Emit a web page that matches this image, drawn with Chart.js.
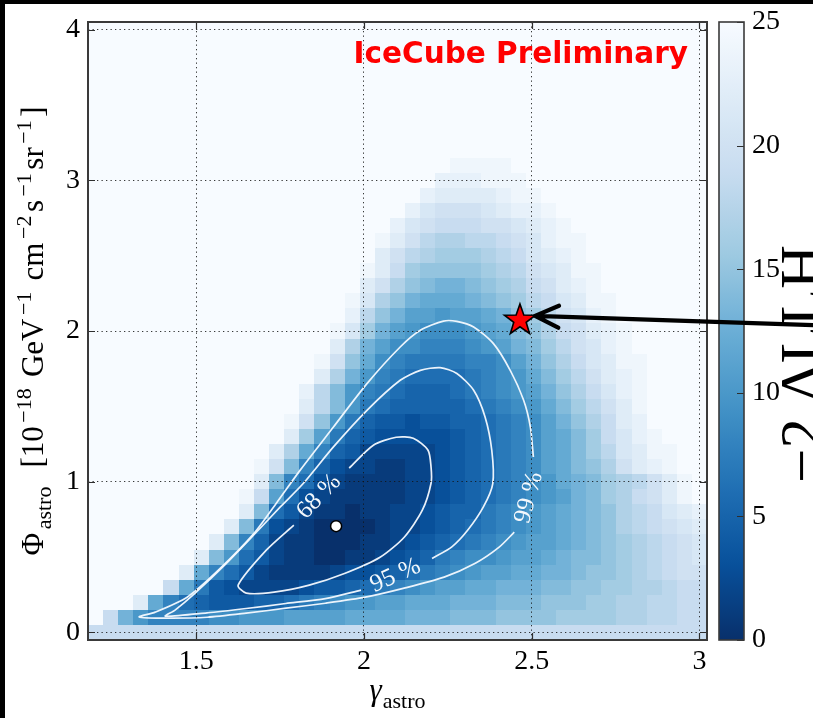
<!DOCTYPE html>
<html>
<head>
<meta charset="utf-8">
<script src="https://cdn.jsdelivr.net/npm/chart.js@4.4.1/dist/chart.umd.min.js"></script>
<style>
  html, body { margin: 0; padding: 0; background: #fff; }
  #wrap { position: relative; width: 813px; height: 718px; overflow: hidden; }
  #c { position: absolute; left: 0; top: 0; }
  .edge { position: absolute; background: #000; }
</style>
</head>
<body>
<div id="wrap">
  <canvas id="c" width="813" height="718"></canvas>
  <div class="edge" style="left:0;top:0;width:813px;height:4px"></div>
  <div class="edge" style="left:0;top:0;width:5px;height:718px"></div>
</div>
<script>
(function () {
    'use strict';

    // scan grid: gamma bins (x) and phi bins (y)
    const gammaStart = 1.2, gammaStep = 0.045;
    const phiStart = 0, phiStep = 0.1;
    const llhCap = 25;

    // -2 dLLH per phi row, starting at column rowFirstCol[r]; cells outside are >= 25
    const rowFirstCol = [0, 1, 3, 5, 6, 7, 8, 9, 10, 10, 11, 11, 12, 13, 13, 14, 14, 15, 15, 16, 16, 17, 17, 18, 18, 19, 19, 20, 21, 22, 23, 24];
    const llhRows = [
        [19,19,19,19,19,19,19,19,19,19,19,19,19,19,19,19,19,19,19,19,19,19,19,19,19,19,19,19,19,19,19,19,19,19,19,19,19,19,19,19,19],
        [19,13,10,8,8,8,8,9,9,10,10,10,11,11,11,11,12,12,12,12,13,13,13,14,14,14,15,15,15,15,16,16,16,16,17,17,18,18,19,19],
        [22,12,8,6,5,4,4,4,5,5,6,7,8,9,10,10,11,11,12,12,12,13,13,13,14,14,14,15,15,15,16,16,17,17,18,18,19,19],
        [19,12,7,4,3,2,2,2,2,3,4,4,5,6,7,8,9,10,11,11,12,12,13,13,13,14,14,15,15,16,16,17,17,18,19,19],
        [22,12,8,6,4,2,1,1,1,1,2,3,3,4,5,6,7,8,9,10,11,11,12,12,13,13,14,15,15,16,17,18,19,20,20],
        [22,14,10,6,4,2,1,1,0,0,1,1,2,3,4,5,7,8,9,9,10,11,11,12,13,14,14,15,16,17,18,19,20,21],
        [22,14,8,5,2,1,1,0,0,0,1,1,2,3,4,5,6,7,8,9,10,11,11,12,13,14,15,16,17,18,19,20,21],
        [22,14,7,3,2,1,0,0,0,0,1,2,2,3,4,5,6,7,8,9,10,11,12,13,14,15,17,18,19,20,21,22],
        [22,14,6,4,2,1,1,0,1,1,2,2,3,4,5,5,7,8,9,10,11,12,13,14,15,17,18,19,21,22,23],
        [24,19,11,6,3,2,1,1,1,1,1,2,2,3,4,5,6,7,8,9,10,11,13,14,16,17,19,20,22,24],
        [22,14,8,6,3,2,1,1,1,1,2,2,3,4,5,6,7,8,9,10,12,13,14,16,17,18,20,22,24],
        [24,20,14,8,5,3,2,2,1,1,2,2,3,4,5,6,7,8,9,11,12,14,15,17,20,22,23,24],
        [22,17,12,8,5,4,2,2,2,2,2,3,4,5,6,7,8,9,11,12,14,16,18,21,22,24,24],
        [22,16,11,7,5,4,3,3,3,3,3,4,5,6,7,8,9,11,12,14,16,19,21,23,24],
        [24,20,15,10,7,5,4,4,3,4,4,5,5,6,7,8,9,11,13,15,17,19,22,23],
        [22,18,14,10,7,6,5,5,5,5,5,6,7,8,9,10,12,14,16,18,20,22,24],
        [23,18,14,10,8,7,6,5,5,5,6,7,8,9,10,11,13,15,17,19,21,23,24],
        [22,17,13,10,8,7,6,6,6,6,7,8,9,10,12,14,16,18,20,22,23,24],
        [24,20,15,12,9,8,7,7,7,7,8,8,9,11,13,15,17,19,21,22,24,24],
        [22,17,13,11,9,9,8,8,8,9,10,11,13,14,16,18,20,21,23,24],
        [24,21,16,13,11,10,9,9,9,10,11,12,14,15,17,19,20,22,23,24],
        [23,18,15,13,11,11,10,11,11,12,13,15,16,18,20,21,23,24],
        [24,21,17,15,13,12,12,12,13,14,15,16,18,19,21,22,24,24],
        [22,20,17,15,14,13,13,14,15,16,17,19,20,22,23,24],
        [24,22,19,16,15,15,15,15,16,17,18,20,21,22,24,24],
        [22,20,18,17,16,16,16,17,18,19,21,22,23,24],
        [24,22,20,18,17,17,18,18,19,20,21,23,24,24],
        [23,21,20,19,19,19,20,20,21,22,23,24],
        [23,21,20,20,20,21,22,23,23,24],
        [23,22,22,22,22,23,24,24],
        [23,23,23,24,24,24],
        [24,24,24,24]
    ];

    // confidence contours (gamma, phi), open where the label sits
    const contour68 = [[1.791,0.712],[1.709,0.546],[1.625,0.314],[1.649,0.261],[1.732,0.267],[1.837,0.314],[1.944,0.393],[2.048,0.499],[2.120,0.632],[2.174,0.811],[2.200,0.990],[2.200,1.097],[2.191,1.209],[2.147,1.289],[2.096,1.295],[2.028,1.242],[1.956,1.090]];
    const contour95 = [[2.203,0.491],[2.262,0.568],[2.309,0.678],[2.356,0.833],[2.384,0.988],[2.381,1.209],[2.361,1.430],[2.327,1.607],[2.277,1.718],[2.227,1.757],[2.168,1.739],[2.108,1.673],[2.009,1.474],[1.909,1.231],[1.819,0.988],[1.750,0.831],[1.685,0.678],[1.590,0.458],[1.496,0.259],[1.437,0.148],[1.408,0.108],[1.532,0.130],[1.649,0.159],[1.767,0.192],[1.885,0.225],[1.991,0.281]];
    const contour99 = [[2.505,1.164],[2.496,1.363],[2.476,1.540],[2.436,1.739],[2.386,1.916],[2.327,2.027],[2.277,2.064],[2.237,2.066],[2.168,2.005],[2.108,1.894],[2.009,1.651],[1.909,1.363],[1.810,1.077],[1.741,0.864],[1.673,0.659],[1.566,0.413],[1.473,0.234],[1.378,0.135],[1.330,0.103],[1.414,0.095],[1.533,0.101],[1.649,0.128],[1.768,0.161],[1.885,0.194],[2.004,0.234],[2.120,0.294],[2.239,0.367],[2.332,0.459],[2.403,0.566],[2.448,0.665]];
    const contourLabels = ['68 %', '95 %', '99 %'];
    const contourLabelAt = [[1.866, 0.900, -46], [2.094, 0.377, -24], [2.492, 0.894, -75]];

    const bestFit = [1.917, 0.705];
    const starAt = [2.465, 2.071];
    const arrowTip = [2.51, 2.10];
    const arrowTailFrac = [1.0, 0.453];

    const xTicks = [1.5, 2, 2.5, 3];
    const xTickText = ['1.5', '2', '2.5', '3'];
    const yTicks = [0, 1, 2, 3, 4];
    const yTickText = ['0', '1', '2', '3', '4'];
    const cbTicks = [0, 5, 10, 15, 20, 25];
    const cbTickText = ['0', '5', '10', '15', '20', '25'];

    const xTitle = [['γ', 'it'], ['astro', 'sub']];
    const yTitle = [['Φ', 'n'], ['astro', 'sub'], ['  [10', 'n'], ['−18', 'sup'], [' GeV', 'n'], ['−1', 'sup'], [' cm', 'n'], ['−2', 'sup'], ['s', 'n'], ['−1', 'sup'], ['sr', 'n'], ['−1', 'sup'], [']', 'n']];
    const cbTitle = '−2 ΔLLH';
    const watermark = 'IceCube Preliminary';

    const SERIF = '"Liberation Serif", "Times New Roman", serif';
    const bluesStops = ['#f7fbff', '#deebf7', '#c6dbef', '#9ecae1', '#6baed6', '#4292c6', '#2171b5', '#08519c', '#08306b'];

    function hexRgb(h) {
        return [parseInt(h.slice(1, 3), 16), parseInt(h.slice(3, 5), 16), parseInt(h.slice(5, 7), 16)];
    }
    const bluesRgb = bluesStops.map(hexRgb);

    function blues(v) {
        const t = 1 - Math.min(Math.max(v, 0), llhCap) / llhCap;
        const p = t * (bluesRgb.length - 1);
        const i = Math.min(bluesRgb.length - 2, Math.floor(p));
        const f = p - i;
        const a = bluesRgb[i], b = bluesRgb[i + 1];
        return 'rgb(' + a.map((c, k) => Math.round(c + (b[k] - c) * f)).join(',') + ')';
    }

    function toPoints(arr) {
        return arr.map(p => ({ x: p[0], y: p[1] }));
    }

    function drawRich(ctx, parts, x, y, rot, gap) {
        const size = { n: 31, it: 31, sub: 22, sup: 22 };
        const shift = { n: 0, it: 0, sub: 8, sup: -12 };
        const fontOf = k => (k === 'it' ? 'italic ' : '') + size[k] + 'px ' + SERIF;
        let total = 0;
        parts.forEach(p => { ctx.font = fontOf(p[1]); total += ctx.measureText(p[0]).width + gap; });
        total -= gap;
        ctx.save();
        ctx.translate(x, y);
        ctx.rotate(rot);
        ctx.fillStyle = '#000';
        ctx.textBaseline = 'alphabetic';
        ctx.textAlign = 'left';
        let cx = -total / 2;
        parts.forEach(p => {
            ctx.font = fontOf(p[1]);
            ctx.fillText(p[0], cx, shift[p[1]]);
            cx += ctx.measureText(p[0]).width + gap;
        });
        ctx.restore();
    }

    function drawCells(chart) {
        const { ctx, chartArea: a, scales: { x, y } } = chart;
        ctx.save();
        ctx.beginPath();
        ctx.rect(a.left, a.top, a.right - a.left, a.bottom - a.top);
        ctx.clip();
        ctx.fillStyle = blues(llhCap);
        ctx.fillRect(a.left, a.top, a.right - a.left, a.bottom - a.top);
        llhRows.forEach((vals, r) => {
            const phi = phiStart + r * phiStep;
            const y0 = Math.round(y.getPixelForValue(phi + phiStep / 2));
            const y1 = Math.round(y.getPixelForValue(phi - phiStep / 2));
            vals.forEach((v, k) => {
                const g = gammaStart + (rowFirstCol[r] + k) * gammaStep;
                const x0 = Math.round(x.getPixelForValue(g - gammaStep / 2));
                const x1 = Math.round(x.getPixelForValue(g + gammaStep / 2));
                ctx.fillStyle = blues(v);
                ctx.fillRect(x0, y0, x1 - x0, y1 - y0);
            });
        });
        ctx.restore();
    }

    function drawContourLabels(chart) {
        const { ctx, scales: { x, y } } = chart;
        ctx.save();
        ctx.fillStyle = '#f4f8fc';
        ctx.font = '25px ' + SERIF;
        ctx.textAlign = 'center';
        ctx.textBaseline = 'middle';
        contourLabels.forEach((txt, i) => {
            const p = contourLabelAt[i];
            ctx.save();
            ctx.translate(x.getPixelForValue(p[0]), y.getPixelForValue(p[1]));
            ctx.rotate(p[2] * Math.PI / 180);
            ctx.fillText(txt, 0, 0);
            ctx.restore();
        });
        ctx.restore();
    }

    function drawFrame(chart) {
        const { ctx, chartArea: a, scales: { x, y } } = chart;
        ctx.save();
        ctx.strokeStyle = '#2e2e2e';
        ctx.lineWidth = 1.2;
        ctx.beginPath();
        x.ticks.forEach(t => {
            const px = Math.round(x.getPixelForValue(t.value)) + 0.5;
            ctx.moveTo(px, a.bottom); ctx.lineTo(px, a.bottom - 7);
            ctx.moveTo(px, a.top); ctx.lineTo(px, a.top + 7);
        });
        y.ticks.forEach(t => {
            const py = Math.round(y.getPixelForValue(t.value)) + 0.5;
            ctx.moveTo(a.left, py); ctx.lineTo(a.left + 7, py);
            ctx.moveTo(a.right, py); ctx.lineTo(a.right - 7, py);
        });
        ctx.stroke();
        ctx.strokeStyle = '#3a3a3a';
        ctx.lineWidth = 2;
        ctx.strokeRect(a.left, a.top, a.right - a.left, a.bottom - a.top);
        ctx.restore();
    }

    function drawColorbar(chart) {
        const { ctx } = chart;
        const cb = chart.scales.cb;
        const left = cb.left + 12, width = 25;
        const top = cb.getPixelForValue(llhCap), bottom = cb.getPixelForValue(0);
        const grad = ctx.createLinearGradient(0, bottom, 0, top);
        for (let v = 0; v <= llhCap; v += 0.5) {
            grad.addColorStop(v / llhCap, blues(v));
        }
        ctx.save();
        ctx.fillStyle = grad;
        ctx.fillRect(left, top, width, bottom - top);
        ctx.strokeStyle = '#2e2e2e';
        ctx.lineWidth = 1.2;
        ctx.beginPath();
        cb.ticks.forEach(t => {
            const py = Math.round(cb.getPixelForValue(t.value)) + 0.5;
            ctx.moveTo(left + width, py); ctx.lineTo(left + width - 7, py);
        });
        ctx.stroke();
        ctx.strokeStyle = '#3a3a3a';
        ctx.lineWidth = 1.6;
        ctx.strokeRect(left, top, width, bottom - top);
        ctx.restore();
    }

    function drawTitles(chart) {
        const { ctx, chartArea: a } = chart;
        drawRich(ctx, xTitle, (a.left + a.right) / 2, 700, 0, 1);
        drawRich(ctx, yTitle, 43, (a.top + a.bottom) / 2, -Math.PI / 2, 3.5);
        ctx.save();
        ctx.translate(822, 364);
        ctx.rotate(-Math.PI / 2);
        ctx.font = '61px ' + SERIF;
        ctx.fillStyle = '#000';
        ctx.textAlign = 'center';
        ctx.textBaseline = 'alphabetic';
        ctx.fillText(cbTitle, 0, 0);
        ctx.restore();
        ctx.save();
        ctx.font = 'bold 29.5px "DejaVu Sans", sans-serif';
        ctx.fillStyle = '#ff0000';
        ctx.textAlign = 'right';
        ctx.textBaseline = 'alphabetic';
        ctx.fillText(watermark, a.right - 19, a.top + 41);
        ctx.restore();
    }

    function drawStar(chart) {
        const { ctx, scales: { x, y } } = chart;
        const cx = x.getPixelForValue(starAt[0]), cy = y.getPixelForValue(starAt[1]);
        const R = 16.3, r = R * 0.4;
        ctx.save();
        ctx.beginPath();
        for (let i = 0; i < 10; i++) {
            const ang = -Math.PI / 2 + i * Math.PI / 5;
            const rad = i % 2 === 0 ? R : r;
            const px = cx + rad * Math.cos(ang), py = cy + rad * Math.sin(ang);
            if (i === 0) ctx.moveTo(px, py); else ctx.lineTo(px, py);
        }
        ctx.closePath();
        ctx.fillStyle = '#ff0000';
        ctx.fill();
        ctx.lineWidth = 1.6;
        ctx.strokeStyle = '#000';
        ctx.lineJoin = 'miter';
        ctx.stroke();
        ctx.restore();
    }

    function drawArrow(chart) {
        const { ctx, scales: { x, y } } = chart;
        const tx = x.getPixelForValue(arrowTip[0]), ty = y.getPixelForValue(arrowTip[1]);
        const ex = chart.width * arrowTailFrac[0] + 2, ey = chart.height * arrowTailFrac[1];
        const ang = Math.atan2(ey - ty, ex - tx);
        const head = 26, spread = 25 * Math.PI / 180;
        ctx.save();
        ctx.strokeStyle = '#000';
        ctx.lineWidth = 4.2;
        ctx.lineCap = 'round';
        ctx.lineJoin = 'round';
        ctx.beginPath();
        ctx.moveTo(ex, ey);
        ctx.lineTo(tx, ty);
        ctx.moveTo(tx + head * Math.cos(ang - spread), ty + head * Math.sin(ang - spread));
        ctx.lineTo(tx, ty);
        ctx.lineTo(tx + head * Math.cos(ang + spread), ty + head * Math.sin(ang + spread));
        ctx.stroke();
        ctx.restore();
    }

    const sketchPlugin = {
        id: 'sketch',
        beforeDatasetsDraw: drawCells,
        afterDatasetsDraw: drawContourLabels,
        afterDraw(chart) {
            drawFrame(chart);
            drawColorbar(chart);
            drawTitles(chart);
            drawStar(chart);
            drawArrow(chart);
        }
    };

    const contourStyle = {
        showLine: true,
        fill: false,
        borderColor: 'rgba(246,250,255,0.95)',
        borderWidth: 1.7,
        pointRadius: 0,
        tension: 0.25
    };

    const tickFont = { family: SERIF, size: 28 };

    // tick labels are pushed off the axis with an invisible tick mark rather than
    // ticks.padding, which would also be added to the scale's top/bottom padding
    function gapGrid(len, extra) {
        return Object.assign({ drawOnChartArea: false, drawTicks: true, tickLength: len, tickColor: 'rgba(0,0,0,0)' }, extra || {});
    }

    new Chart(document.getElementById('c'), {
        type: 'scatter',
        data: {
            datasets: [
                Object.assign({ label: '99 %', data: toPoints(contour99) }, contourStyle),
                Object.assign({ label: '95 %', data: toPoints(contour95) }, contourStyle),
                Object.assign({ label: '68 %', data: toPoints(contour68) }, contourStyle),
                {
                    label: 'best fit',
                    data: toPoints([bestFit]),
                    pointRadius: 5.5,
                    pointBackgroundColor: '#ffffff',
                    pointBorderColor: '#000000',
                    pointBorderWidth: 1.5
                }
            ]
        },
        options: {
            responsive: false,
            animation: false,
            devicePixelRatio: 1,
            layout: { padding: { left: 0, right: 0, top: 22, bottom: 0 } },
            plugins: { legend: { display: false }, tooltip: { enabled: false } },
            scales: {
                x: {
                    type: 'linear',
                    min: gammaStart - gammaStep / 2,
                    max: gammaStart + 40.5 * gammaStep,
                    afterBuildTicks: s => { s.ticks = xTicks.map(v => ({ value: v })); },
                    afterFit: s => { s.height = 78; },
                    ticks: {
                        autoSkip: false, maxRotation: 0, padding: 0, color: '#000', font: tickFont,
                        callback: (v, i) => xTickText[i]
                    },
                    grid: gapGrid(5, { drawOnChartArea: true, color: 'rgba(20,20,20,0.85)', lineWidth: 1, z: 1 }),
                    border: { display: false, dash: [1.3, 3.2] }
                },
                y: {
                    type: 'linear',
                    min: phiStart - phiStep / 2,
                    max: 4 + phiStep / 2,
                    afterBuildTicks: s => { s.ticks = yTicks.map(v => ({ value: v })); },
                    afterFit: s => { s.width = 88; },
                    ticks: {
                        autoSkip: false, padding: 0, color: '#000', font: tickFont,
                        callback: (v, i) => yTickText[i]
                    },
                    grid: gapGrid(8, { drawOnChartArea: true, color: 'rgba(20,20,20,0.85)', lineWidth: 1, z: 1 }),
                    border: { display: false, dash: [1.3, 3.2] }
                },
                cb: {
                    type: 'linear',
                    position: 'right',
                    min: 0,
                    max: llhCap,
                    afterBuildTicks: s => { s.ticks = cbTicks.map(v => ({ value: v })); },
                    afterFit: s => { s.width = 106; },
                    ticks: {
                        autoSkip: false, padding: 0, color: '#000', font: tickFont,
                        callback: (v, i) => cbTickText[i]
                    },
                    grid: gapGrid(45),
                    border: { display: false }
                }
            }
        },
        plugins: [sketchPlugin]
    });
})();
</script>
</body>
</html>
